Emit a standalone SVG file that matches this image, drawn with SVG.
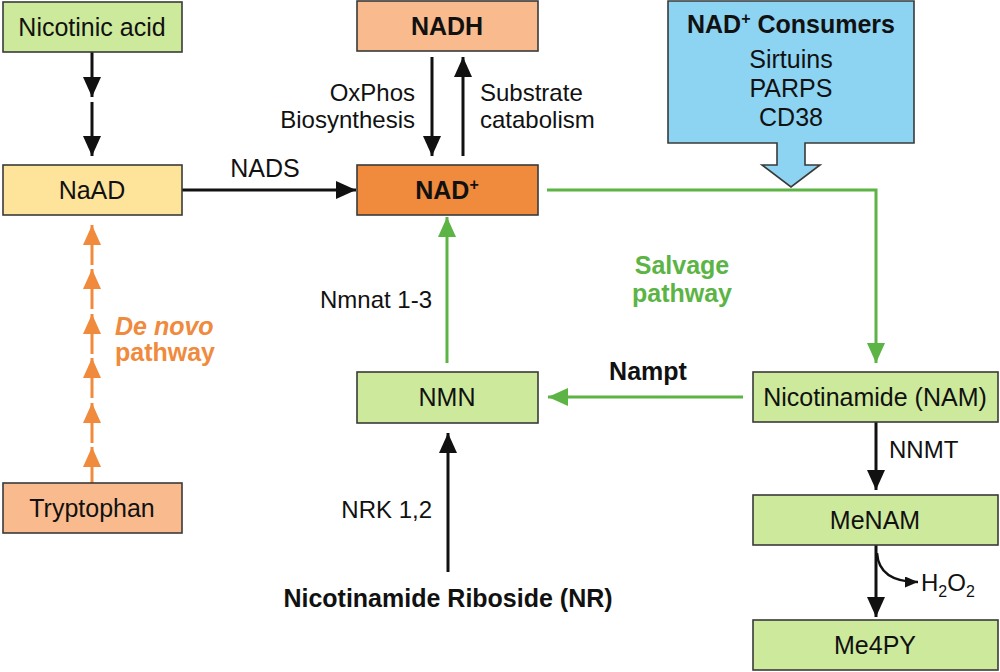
<svg xmlns="http://www.w3.org/2000/svg" width="1000" height="672" viewBox="0 0 1000 672">
<style>
text{font-family:"Liberation Sans",Arial,Helvetica,sans-serif;fill:#111;}
.lbl{font-size:25px;text-anchor:middle;}
.sm{font-size:24px;}
.b{font-weight:bold;}
.box{stroke:#3a3a3a;stroke-width:1.6;}
.g{fill:#cde99b;}
.o{fill:#f9bb8d;}
.y{fill:#fde49a;}
.d{fill:#f08a3c;}
.bl{fill:#8dd4f2;}
.blk{stroke:#111;stroke-width:3;fill:none;}
.grn{stroke:#5cb445;stroke-width:3;fill:none;}
.org{stroke:#f08a3c;stroke-width:3;fill:none;}
</style>
<defs>
<marker id="ak" markerUnits="userSpaceOnUse" markerWidth="20" markerHeight="18" refX="20" refY="9" orient="auto"><path d="M0,0 L20,9 L0,18 z" fill="#111"/></marker>
<marker id="ag" markerUnits="userSpaceOnUse" markerWidth="20" markerHeight="18" refX="20" refY="9" orient="auto"><path d="M0,0 L20,9 L0,18 z" fill="#5cb445"/></marker>
<marker id="ao" markerUnits="userSpaceOnUse" markerWidth="20" markerHeight="18" refX="20" refY="9" orient="auto"><path d="M0,0 L20,9 L0,18 z" fill="#f08a3c"/></marker>
<marker id="as" markerUnits="userSpaceOnUse" markerWidth="13" markerHeight="11" refX="13" refY="5.5" orient="auto"><path d="M0,0 L13,5.5 L0,11 z" fill="#111"/></marker>
</defs>

<g id="connectors">
<line class="blk" x1="92" y1="52" x2="92" y2="97" marker-end="url(#ak)"/>
<line class="blk" x1="92" y1="102" x2="92" y2="156" marker-end="url(#ak)"/>
<line class="blk" x1="182" y1="190" x2="356" y2="190" marker-end="url(#ak)"/>
<line class="blk" x1="432" y1="57" x2="432" y2="156" marker-end="url(#ak)"/>
<line class="blk" x1="463" y1="156" x2="463" y2="57" marker-end="url(#ak)"/>
<path class="grn" d="M547,190 H876 V363" marker-end="url(#ag)"/>
<line class="grn" x1="743" y1="397" x2="548" y2="397" marker-end="url(#ag)"/>
<line class="grn" x1="447" y1="363" x2="447" y2="217" marker-end="url(#ag)"/>
<line class="blk" x1="448" y1="572" x2="448" y2="433" marker-end="url(#ak)"/>
<line class="blk" x1="876" y1="422" x2="876" y2="490" marker-end="url(#ak)"/>
<line class="blk" x1="876" y1="545" x2="876" y2="617" marker-end="url(#ak)"/>
<path d="M877,553 Q879,582 918,582" stroke="#111" stroke-width="2.5" fill="none" marker-end="url(#as)"/>
<line class="org" x1="92" y1="483" x2="92" y2="447" marker-end="url(#ao)"/>
<line class="org" x1="92" y1="443" x2="92" y2="403" marker-end="url(#ao)"/>
<line class="org" x1="92" y1="398" x2="92" y2="358" marker-end="url(#ao)"/>
<line class="org" x1="92" y1="354" x2="92" y2="314" marker-end="url(#ao)"/>
<line class="org" x1="92" y1="309" x2="92" y2="269" marker-end="url(#ao)"/>
<line class="org" x1="92" y1="265" x2="92" y2="225" marker-end="url(#ao)"/>
</g>

<g id="edge-labels">
<text class="lbl" x="265" y="177">NADS</text>
<text x="415" y="101" class="sm" style="text-anchor:end">OxPhos</text>
<text x="415" y="128" class="sm" style="text-anchor:end">Biosynthesis</text>
<text x="480" y="101" class="sm">Substrate</text>
<text x="480" y="128" class="sm">catabolism</text>
<text x="432" y="308" class="sm" style="text-anchor:end">Nmnat 1-3</text>
<text x="682" y="274" class="lbl b" style="fill:#5cb445">Salvage</text>
<text x="682" y="302" class="lbl b" style="fill:#5cb445">pathway</text>
<text x="648" y="380" class="lbl b">Nampt</text>
<text x="432" y="518" class="sm" style="text-anchor:end">NRK 1,2</text>
<text x="889" y="458" class="sm">NNMT</text>
<text x="921" y="591" class="sm">H<tspan dy="6" font-size="16">2</tspan><tspan dy="-6">O</tspan><tspan dy="6" font-size="16">2</tspan></text>
<text x="115" y="335" class="b" style="font-size:25px;fill:#f08a3c;font-style:italic">De novo</text>
<text x="115" y="361" class="b" style="font-size:25px;fill:#f08a3c">pathway</text>
</g>

<g id="nicotinic-acid"><rect class="box g" x="3" y="2" width="179" height="50"/><text class="lbl" x="92" y="36">Nicotinic acid</text></g>
<g id="naad"><rect class="box y" x="3" y="165" width="179" height="50"/><text class="lbl" x="92" y="199">NaAD</text></g>
<g id="tryptophan"><rect class="box o" x="3" y="483" width="179" height="50"/><text class="lbl" x="92" y="517">Tryptophan</text></g>
<g id="nadh"><rect class="box o" x="357" y="1" width="181" height="50"/><text class="lbl b" x="447" y="35">NADH</text></g>
<g id="nad"><rect class="box d" x="357" y="165" width="181" height="50"/><text class="lbl b" x="447" y="199">NAD<tspan dy="-9" font-size="16">+</tspan></text></g>
<g id="nmn"><rect class="box g" x="357" y="372" width="181" height="51"/><text class="lbl" x="447" y="406">NMN</text></g>
<g id="consumers">
<path class="box bl" d="M668,1 H914 V143 H805 V165 H820 L791,187 L762,165 H777 V143 H668 Z"/>
<text class="lbl b" x="791" y="33">NAD<tspan dy="-9" font-size="16">+</tspan><tspan dy="9"> Consumers</tspan></text>
<text class="lbl" x="791" y="68">Sirtuins</text>
<text class="lbl" x="791" y="97">PARPS</text>
<text class="lbl" x="791" y="126">CD38</text>
</g>
<g id="nam"><rect class="box g" x="753" y="372" width="245" height="50"/><text class="lbl" x="875" y="406">Nicotinamide (NAM)</text></g>
<g id="menam"><rect class="box g" x="753" y="495" width="245" height="50"/><text class="lbl" x="875" y="529">MeNAM</text></g>
<g id="me4py"><rect class="box g" x="753" y="620" width="245" height="50"/><text class="lbl" x="875" y="654">Me4PY</text></g>
<g id="nr"><text class="lbl b" x="448" y="607">Nicotinamide Riboside (NR)</text></g>
</svg>
